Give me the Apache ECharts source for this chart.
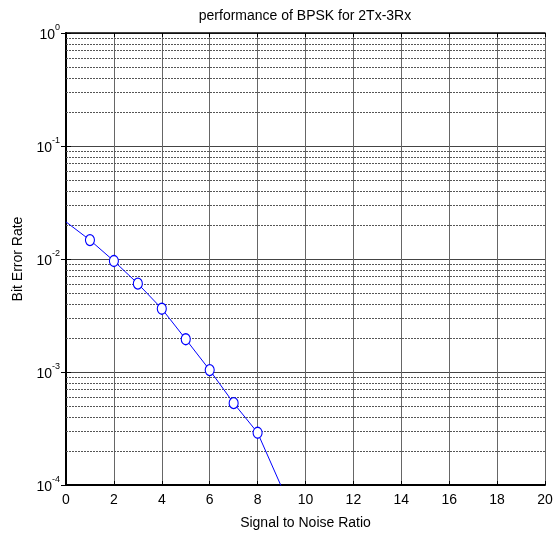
<!DOCTYPE html>
<html><head><meta charset="utf-8">
<script src="https://cdn.jsdelivr.net/npm/echarts@6/dist/echarts.min.js"></script>
<style>html,body{margin:0;padding:0;background:#fff}#c{width:558px;height:535px}</style>
</head><body><div id="c"></div>
<script>
const snr = [0, 1, 2, 3, 4, 5, 6, 7, 8, 9];
const ber = [0.0213, 0.0147, 0.0096, 0.00605, 0.00363, 0.00195, 0.00104, 0.00053, 0.00029, 0.000096];
const markerShown = [false, true, true, true, true, true, true, true, true, false];
const xTicks = [0, 2, 4, 6, 8, 10, 12, 14, 16, 18, 20];
const minorGrid = [];
[1e-4, 1e-3, 1e-2, 1e-1].forEach(d => { for (let k = 2; k <= 9; k++) minorGrid.push(+(d * k).toPrecision(3)); });

const font = 'Liberation Sans, Arial, sans-serif';
const chart = echarts.init(document.getElementById('c'));
const yLabel = v => { const e = Math.round(Math.log10(v)); return '{b|10}{s|' + e + '}'; };
chart.setOption({
  animation: false,
  title: { text: 'performance of BPSK for 2Tx-3Rx', left: 300, top: 4, textAlign: 'center',
    textStyle: { fontFamily: font, fontSize: 14, fontWeight: 'normal', color: '#000' } },
  grid: { left: 66, right: 13, top: 33, bottom: 50 },
  xAxis: [{
    type: 'value', min: 0, max: 20, interval: 2,
    name: 'Signal to Noise Ratio', nameLocation: 'middle', nameGap: 31,
    nameTextStyle: { fontFamily: font, fontSize: 14, color: '#000' },
    axisLine: { lineStyle: { color: '#000', width: 2 } },
    axisTick: { inside: true, length: 4, lineStyle: { color: '#000' } },
    axisLabel: { fontFamily: font, fontSize: 14, color: '#000', margin: 8, formatter: v => xTicks.includes(v) ? String(v) : '' },
    splitLine: { show: true, lineStyle: { color: '#666', width: 1 } }
  }, {
    type: 'value', min: 0, max: 20, interval: 2, position: 'top',
    axisLine: { show: true, lineStyle: { color: '#000', width: 1.5 } },
    axisTick: { inside: true, length: 4, lineStyle: { color: '#000' } },
    axisLabel: { show: false }, splitLine: { show: false }
  }],
  yAxis: [{
    type: 'log', logBase: 10, min: 1e-4, max: 1,
    name: 'Bit Error Rate', nameLocation: 'middle', nameGap: 32, nameRotate: 90,
    nameTextStyle: { fontFamily: font, fontSize: 14, color: '#000' },
    axisLine: { show: true, lineStyle: { color: '#000', width: 2 } },
    axisTick: { inside: true, length: 5, lineStyle: { color: '#000' } },
    axisLabel: { margin: 6, formatter: yLabel,
      rich: { b: { fontFamily: font, fontSize: 14, color: '#000', verticalAlign: 'bottom' },
              s: { fontFamily: font, fontSize: 9, color: '#000', verticalAlign: 'top', padding: [0,0,10,0] } } },
    splitLine: { show: true, lineStyle: { color: '#444', width: 1 } }
  }, {
    type: 'log', logBase: 10, min: 1e-4, max: 1, position: 'right',
    axisLine: { show: true, lineStyle: { color: '#000', width: 1.5 } },
    axisTick: { inside: true, length: 5, lineStyle: { color: '#000' } },
    axisLabel: { show: false }, splitLine: { show: false }
  }],
  series: [{
    type: 'line', xAxisIndex: 0, yAxisIndex: 0,
    data: snr.map((x, i) => ({ value: [x, ber[i]], symbol: markerShown[i] ? 'circle' : 'none' })),
    symbolSize: [9, 11], showAllSymbol: true,
    lineStyle: { color: '#0000ff', width: 1 },
    itemStyle: { color: '#fff', borderColor: '#0000ff', borderWidth: 1.2 },
    clip: true, z: 5,
    markLine: {
      silent: true, symbol: 'none', label: { show: false }, precision: 8,
      lineStyle: { color: '#555', width: 1, type: [2, 1] },
      data: minorGrid.map(v => ({ yAxis: v }))
    }
  }]
});
</script></body></html>
